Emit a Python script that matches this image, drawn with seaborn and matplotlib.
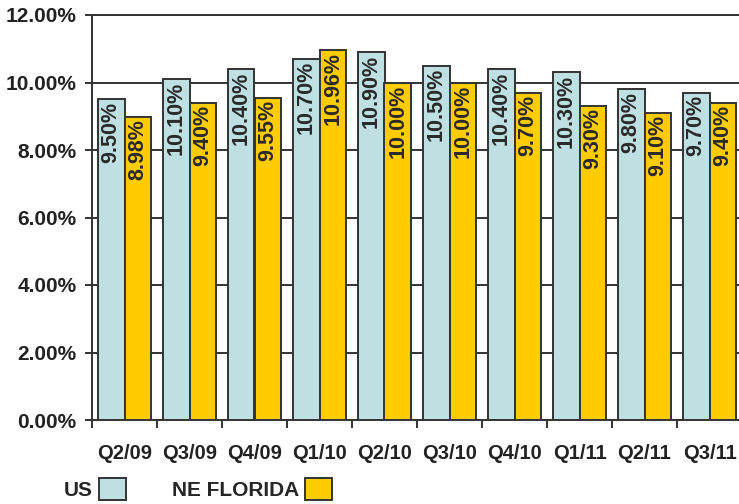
import numpy as np
import pandas as pd
import matplotlib
matplotlib.use("Agg")
import matplotlib.pyplot as plt
import matplotlib.patches as mpatches
import seaborn as sns

quarters = ["Q2/09", "Q3/09", "Q4/09", "Q1/10", "Q2/10", "Q3/10", "Q4/10", "Q1/11", "Q2/11", "Q3/11"]
us_rate = [9.50, 10.10, 10.40, 10.70, 10.90, 10.50, 10.40, 10.30, 9.80, 9.70]
nefl_rate = [8.98, 9.40, 9.55, 10.96, 10.00, 10.00, 9.70, 9.30, 9.10, 9.40]
series = ["US", "NE FLORIDA"]
colors = ["#BEE0E2", "#FFCC00"]
ink = "#333333"

df = pd.DataFrame({
    "quarter": quarters * 2,
    "rate": us_rate + nefl_rate,
    "series": [series[0]] * len(quarters) + [series[1]] * len(quarters),
})

sns.set_style("white")
plt.rcParams["font.family"] = ["Liberation Sans", "DejaVu Sans"]
plt.rcParams["font.weight"] = "bold"

fig = plt.figure(figsize=(7.39, 5.04), dpi=100)
ax = fig.add_axes([92 / 739, 1 - 420 / 504, 650 / 739, 405 / 504])

sns.barplot(data=df, x="quarter", y="rate", hue="series", palette=colors,
            saturation=1, width=0.83, edgecolor=ink, linewidth=1.4, ax=ax,
            legend=False, zorder=3)

ax.set_ylim(0, 12)
ax.set_xlim(-0.5, len(quarters) - 0.5)
ax.set_yticks(np.arange(0, 12.1, 2))
ax.set_yticklabels([f"{v:.2f}%" for v in np.arange(0, 12.1, 2)])
ax.grid(axis="y", color=ink, linewidth=1.4, zorder=0)
ax.set_axisbelow(True)

# boundary ticks between quarters, labels at centres
ax.set_xticks(np.arange(-0.5, len(quarters), 1))
ax.set_xticklabels([])
ax.set_xticks(np.arange(len(quarters)), minor=True)
ax.set_xticklabels(quarters, minor=True)
ax.tick_params(axis="x", which="major", length=6, width=1.4, color=ink, direction="out", bottom=True)
ax.tick_params(axis="x", which="minor", length=0, pad=17, labelsize=14.5, labelcolor="#222222")
ax.tick_params(axis="y", length=5, width=1.4, color=ink, direction="out", left=True,
               pad=6, labelsize=15, labelcolor="#222222")
for lab in ax.get_xticklabels(minor=True) + ax.get_yticklabels():
    lab.set_fontweight("bold")

for s in ["left", "bottom", "top"]:
    ax.spines[s].set_color(ink)
    ax.spines[s].set_linewidth(1.4)
ax.spines["right"].set_visible(False)
ax.set_xlabel("")
ax.set_ylabel("")

# value labels inside the top of each bar
for cont in ax.containers:
    for bar in cont:
        h = bar.get_height()
        ax.text(bar.get_x() + bar.get_width() / 2, h - 0.07, f"{h:.2f}%",
                rotation=90, ha="center", va="top", fontsize=15.5,
                fontweight="bold", color="#2a2a2a", zorder=4)

handles = [mpatches.Patch(facecolor=c, edgecolor=ink, linewidth=1.4) for c in colors]
fig.legend(handles, series, loc="lower left", bbox_to_anchor=(45 / 739, -15 / 504),
           ncol=2, frameon=False, markerfirst=False,
           handlelength=1.3, handleheight=1.3, handletextpad=0.3,
           columnspacing=2.2, prop={"weight": "bold", "size": 15})

fig.savefig("out.png", dpi=100)
